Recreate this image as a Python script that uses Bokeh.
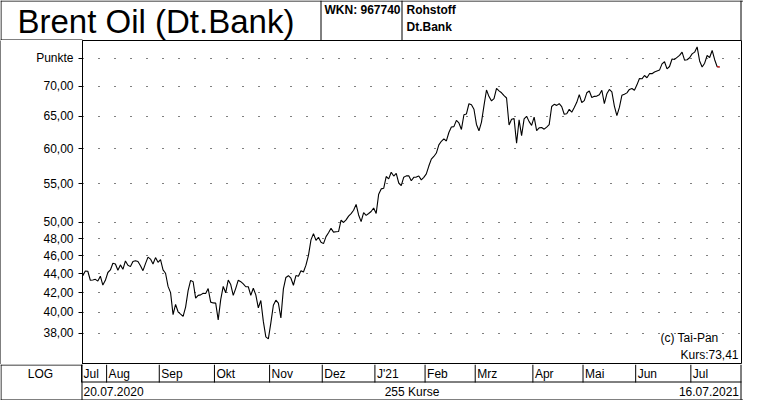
from bokeh.plotting import figure
from bokeh.models import Range1d, FixedTicker, Label
from bokeh.layouts import column, row
from bokeh.embed import file_html
from bokeh.resources import INLINE
from bokeh.core.properties import value

# ---------------- data ----------------
title_text = "Brent Oil  (Dt.Bank)"
wkn_text = "WKN: 967740"
info_lines = ["Rohstoff", "Dt.Bank"]
first_date = "20.07.2020"
last_date = "16.07.2021"

month_names = ["Jul", "Aug", "Sep", "Okt", "Nov", "Dez", "J'21",
               "Feb", "Mrz", "Apr", "Mai", "Jun", "Jul"]

jul20 = [43.80, 44.32, 44.29, 43.31, 43.34, 43.41, 43.22, 43.75, 42.80, 43.30]
aug20 = [44.15, 44.43, 45.17, 45.09, 44.40, 44.99, 44.50, 45.43, 44.96, 44.80,
         45.37, 45.46, 45.37, 44.90, 44.35, 45.13, 45.86, 45.64, 45.09, 45.81, 45.28]
sep20 = [45.58, 44.43, 44.07, 42.66, 42.01, 39.78, 40.79, 40.06, 39.83, 39.61, 40.53,
         42.22, 43.30, 43.15, 41.44, 41.72, 41.77, 41.94, 41.92, 42.43, 41.03, 40.95]
oct20 = [40.93, 39.27, 41.29, 42.65, 41.99, 43.34, 42.85, 41.72, 42.45, 43.32, 43.16,
         42.93, 42.62, 42.62, 41.73, 42.46, 41.77, 40.46, 41.20, 39.12, 37.65, 37.46]
nov20 = [38.97, 40.71, 41.23, 40.93, 39.45, 42.40, 43.61, 43.80, 43.53, 42.78, 43.82,
         43.75, 44.34, 44.20, 44.96, 46.06, 47.86, 48.61, 47.80, 48.18, 47.59]
dec20 = [47.42, 48.25, 48.71, 49.25, 48.79, 48.84, 48.86, 50.25, 49.97, 50.29, 50.76,
         51.08, 51.50, 52.26, 50.91, 50.08, 51.20, 50.86, 51.09, 51.34, 51.80]
jan21 = [51.09, 53.60, 54.30, 54.38, 55.99, 55.66, 56.58, 56.06, 56.42, 55.10,
         54.75, 55.90, 56.08, 56.10, 55.41, 55.88, 55.91, 56.06, 55.53, 55.88]
feb21 = [56.35, 57.46, 58.46, 58.84, 59.34, 60.56, 61.09, 61.47, 61.14, 62.43,
         63.30, 63.35, 64.34, 63.93, 62.91, 65.24, 65.37, 67.04, 66.88, 66.13]
mar21 = [63.69, 62.70, 64.07, 66.74, 69.36, 68.24, 67.52, 67.90, 69.63, 69.22, 68.88,
         68.39, 68.00, 63.60, 64.53, 64.62, 60.79, 64.41, 61.95, 64.57, 64.98, 64.14, 63.54]
apr21 = [64.86, 62.74, 63.16, 63.20, 62.95, 63.28, 63.67, 66.58, 66.94, 66.77,
         67.05, 66.57, 65.32, 65.40, 66.11, 65.65, 66.42, 67.27, 68.56, 67.25]
may21 = [67.56, 68.88, 69.19, 68.09, 68.28, 68.32, 68.55, 69.32, 67.05, 68.71, 69.46,
         69.03, 66.66, 65.11, 66.44, 68.46, 68.65, 68.87, 69.46, 69.63, 69.32]
jun21 = [70.25, 71.35, 71.31, 71.89, 71.49, 72.22, 72.22, 72.52, 72.69, 72.86, 73.99,
         74.39, 73.08, 73.51, 74.90, 74.81, 75.19, 75.56, 76.18, 74.68, 74.76, 75.13]
jul21 = [75.84, 76.17, 77.16, 74.53, 73.43, 74.12, 75.55, 75.16, 76.49, 74.76, 73.47, 73.41]

months_data = [jul20, aug20, sep20, oct20, nov20, dec20, jan21,
               feb21, mar21, apr21, may21, jun21, jul21]

tick_values = [38, 40, 42, 44, 46, 48, 50, 55, 60, 65, 70, 75]
tick_labels = ["38,00", "40,00", "42,00", "44,00", "46,00", "48,00",
               "50,00", "55,00", "60,00", "65,00", "70,00", "Punkte"]

y_low, y_high = 35.16, 78.4       # visible price range (log)
x_low, x_high = -0.12, 262.7      # visible trading-day range

# ---------------- derived ----------------
prices = [v for m in months_data for v in m]
n = len(prices)
idx = list(range(n))
starts = []
s = 0
for m in months_data:
    starts.append(s)
    s += len(m)
sep_x = [st - 0.5 for st in starts]

FONT = "Liberation Sans"
W, H = 743, 400
HEAD_H, BOT_H = 40, 36
MAIN_H = H - HEAD_H - BOT_H
LEFT = 82
RPAD = 2
FW = W - LEFT - RPAD
RX = W - RPAD + 0.5 - 1   # right border line
ppx = FW / (x_high - x_low)

def bare(width, height, **kw):
    p = figure(width=width, height=height, min_border=0, title=None,
               toolbar_location=None, output_backend="svg",
               x_axis_location=None, y_axis_location=None,
               outline_line_color=None, **kw)
    p.grid.visible = False
    return p

# ---------------- header ----------------
hdr = bare(W, HEAD_H, x_range=Range1d(0, W), y_range=Range1d(HEAD_H, 0))
hx0 = [0, 0.5, RX, 320.5, 401.5, 0]
hy0 = [0.5, 0, 0, 0, 0, HEAD_H - 0.5]
hx1 = [W, 0.5, RX, 320.5, 401.5, LEFT]
hy1 = [0.5, HEAD_H, HEAD_H, HEAD_H, HEAD_H, HEAD_H - 0.5]
hdr.segment(hx0, hy0, hx1, hy1, line_color="black", line_width=1)
hdr.text(x=[160], y=[21], text=[title_text], text_font=value(FONT),
         text_font_size="33px", text_align="center", text_baseline="middle",
         text_color="black")
hdr.text(x=[324, 406, 406], y=[9, 9, 26], text=[wkn_text] + info_lines,
         text_font=value(FONT), text_font_style="bold", text_font_size="12px",
         text_align="left", text_baseline="middle", text_color="black")

# ---------------- main chart ----------------
strip = bare(1, MAIN_H, background_fill_color="black", border_fill_color="black")

main = figure(width=W - 1, height=MAIN_H, title=None, toolbar_location=None,
              output_backend="svg", x_range=Range1d(x_low, x_high),
              y_range=Range1d(y_low, y_high), y_axis_type="log",
              x_axis_location=None, min_border_left=LEFT - 1,
              min_border_right=RPAD, min_border_top=0, min_border_bottom=0,
              outline_line_color="black", outline_line_width=1)
main.xgrid.visible = False
ticker = FixedTicker(ticks=tick_values)
ya = main.yaxis[0]
ya.ticker = ticker
ya.major_label_overrides = {float(t): lab for t, lab in zip(tick_values, tick_labels)}
ya.minor_tick_line_color = None
ya.major_tick_out = 4
ya.major_tick_in = 0
ya.major_label_standoff = 5
ya.axis_line_color = "black"
ya.major_tick_line_color = "black"
ya.major_label_text_font = FONT
ya.major_label_text_font_size = "12px"
ya.major_label_text_color = "black"
main.ygrid.ticker = ticker
main.ygrid.grid_line_color = "black"
main.ygrid.grid_line_dash = "1 15"
main.ygrid.grid_line_width = 1

main.line(idx, prices, line_color="black", line_width=1.1)
main.line(idx[-2:], prices[-2:], line_color="red", line_width=1.1)

kurs_text = "Kurs:" + f"{prices[-1]:.2f}".replace(".", ",")
main.add_layout(Label(x=FW - 23, y=27, x_units="screen", y_units="screen",
                      text="(c) Tai-Pan", text_align="right", text_baseline="middle",
                      text_font=FONT, text_font_size="12px", text_color="black"))
main.add_layout(Label(x=FW - 3, y=10, x_units="screen", y_units="screen",
                      text=kurs_text, text_align="right", text_baseline="middle",
                      text_font=FONT, text_font_size="12px", text_color="black"))

# ---------------- bottom band ----------------
bot = bare(W, BOT_H, x_range=Range1d(0, W), y_range=Range1d(BOT_H, 0))
bot.extra_x_ranges = {"idx": Range1d(x_low - LEFT / ppx, x_high + RPAD / ppx)}
bx0 = [0.5, RX, 0, 0, LEFT - 0.5, LEFT - 0.5]
by0 = [0, 0, BOT_H - 0.5, 0.5, 0, 17.5]
bx1 = [0.5, RX, W, LEFT, LEFT - 0.5, W - RPAD]
by1 = [BOT_H, BOT_H, BOT_H - 0.5, 0.5, BOT_H, 17.5]
bot.segment(bx0, by0, bx1, by1, line_color="black", line_width=1)
bot.segment(sep_x, [0] * len(sep_x), sep_x, [18] * len(sep_x),
            x_range_name="idx", line_color="black", line_width=1)
bot.text(x=sep_x, y=[9.5] * len(sep_x), text=month_names, x_range_name="idx",
         x_offset=2, text_font=value(FONT), text_font_size="12px",
         text_align="left", text_baseline="middle", text_color="black")
bot.text(x=[40], y=[9.5], text=["LOG"], text_font=value(FONT),
         text_font_size="12px", text_align="center", text_baseline="middle",
         text_color="black")
bot.text(x=[LEFT + 1, LEFT + FW / 2, RX - 2], y=[27, 27, 27],
         text=[first_date, f"{n} Kurse", last_date],
         text_align=["left", "center", "right"], text_font=value(FONT),
         text_font_size="12px", text_baseline="middle", text_color="black")

layout = column(hdr, row(strip, main), bot)
open("out.html", "w").write(file_html(layout, INLINE))
